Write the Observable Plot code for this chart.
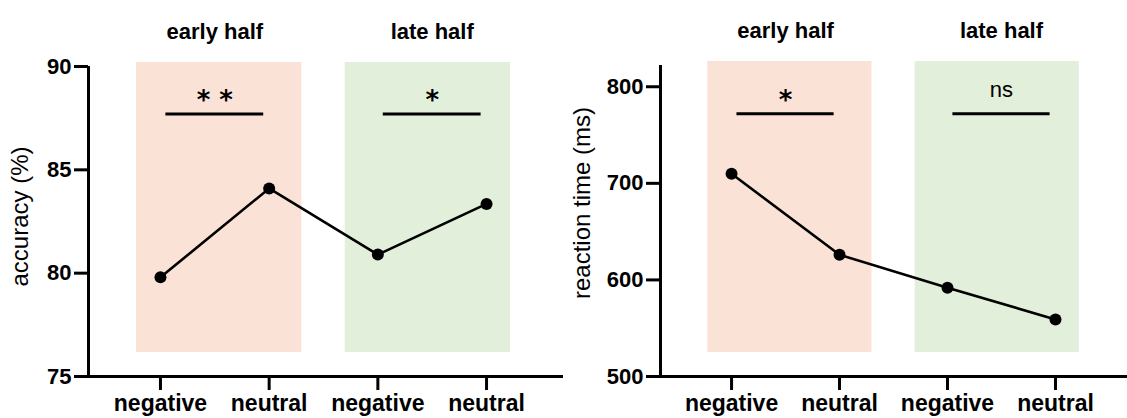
<!DOCTYPE html>
<html>
<head>
<meta charset="utf-8">
<script src="https://cdn.jsdelivr.net/npm/d3@7"></script>
<script src="https://cdn.jsdelivr.net/npm/@observablehq/plot@0.6"></script>
<style>
  body { margin: 0; background: #fff; }
  #wrap { display: flex; width: 1127px; height: 418px; }
  svg { font-family: "Liberation Sans", Arial, sans-serif; }
</style>
</head>
<body>
<div id="wrap"></div>
<script>
// ---- data ----
const conditions = ["negative", "neutral", "negative", "neutral"];
const conditionIndex = [0, 1, 2, 3];
const groups = ["early half", "late half"];
const groupStart = [0, 2];
const groupEnd = [1, 3];
const accuracy = [79.8, 84.1, 80.9, 83.35];
const reactionTime = [710, 626, 592, 559];
const accuracySig = ["* *", "*"];
const rtSig = ["*", "ns"];
const accuracySigLevel = 87.7;
const rtSigLevel = 772;
const accuracyTicks = [75, 80, 85, 90];
const rtTicks = [500, 600, 700, 800];

const bandColors = ["#fae3d6", "#e2efda"];

function makeChart({values, ticks, yDomain, xDomain, sig, sigLevel, label, width, marginLeft, marginTop, labelDy, labelX}) {
  const pts = conditionIndex.map((i) => ({i, v: values[i]}));
  const bands = groups.map((g, k) => ({
    g, k,
    x1: groupStart[k] - (k === 0 ? 0.22 : 0.3),
    x2: groupEnd[k] + (k === 0 ? 0.3 : 0.22),
    mid: (groupStart[k] + groupEnd[k]) / 2,
    s1: groupStart[k] + 0.05,
    s2: groupEnd[k] - 0.05,
    sig: sig[k]
  }));
  return Plot.plot({
    width, height: 418,
    marginLeft, marginRight: 0, marginTop, marginBottom: 42,
    x: {type: "linear", domain: xDomain, axis: null},
    y: {domain: yDomain, axis: null},
    marks: [
      Plot.rect(bands, {x1: "x1", x2: "x2", fill: (d) => bandColors[d.k], insetTop: -4, insetBottom: 24}),
      // significance bars
      Plot.ruleY(bands, {x1: "s1", x2: "s2", y: () => sigLevel, stroke: "black", strokeWidth: 3}),
      Plot.text(bands.filter((d) => d.sig !== "ns"), {x: "mid", y: () => sigLevel, text: "sig", fontFamily: "DejaVu Sans", fontWeight: "bold", fontSize: 26, dy: -13, fill: "black"}),
      Plot.text(bands.filter((d) => d.sig === "ns"), {x: "mid", y: () => sigLevel, text: "sig", fontSize: 22, dy: -24, fill: "black"}),
      // group titles
      Plot.text(bands, {x: "mid", frameAnchor: "top", text: "g", fontSize: 22, fontWeight: "bold", dy: -43, fill: "black"}),
      // axes
      Plot.axisY({ticks, tickSize: 14, strokeWidth: 3, tickPadding: 3, fontSize: 22, fontWeight: "bold", label: null, fill: "black"}),
      Plot.axisX({ticks: conditionIndex, tickFormat: (i) => conditions[i], tickSize: 14, strokeWidth: 3, tickPadding: 4, fontSize: 23, fontWeight: "bold", label: null, fill: "black"}),
      Plot.ruleX([xDomain[0]], {stroke: "black", strokeWidth: 3}),
      Plot.ruleY([yDomain[0]], {stroke: "black", strokeWidth: 3}),
      Plot.text([label], {frameAnchor: "left", textAnchor: "middle", rotate: -90, text: (d) => d, fontSize: 24, dx: -(marginLeft - labelX), dy: labelDy, fill: "black"}),
      // data
      Plot.line(pts, {x: "i", y: "v", stroke: "black", strokeWidth: 2.6}),
      Plot.dot(pts, {x: "i", y: "v", r: 6, fill: "black"})
    ]
  });
}

const wrap = document.getElementById("wrap");
wrap.append(makeChart({
  values: accuracy, ticks: accuracyTicks, yDomain: [75, 90], xDomain: [-0.662, 3.708],
  sig: accuracySig, sigLevel: accuracySigLevel, label: "accuracy (%)",
  width: 563, marginLeft: 88, marginTop: 66, labelDy: -5, labelX: 20
}));
wrap.append(makeChart({
  values: reactionTime, ticks: rtTicks, yDomain: [500, 822], xDomain: [-0.658, 3.667],
  sig: rtSig, sigLevel: rtSigLevel, label: "reaction time (ms)",
  width: 564, marginLeft: 97, marginTop: 65, labelDy: -18, labelX: 19
}));
</script>
</body>
</html>
